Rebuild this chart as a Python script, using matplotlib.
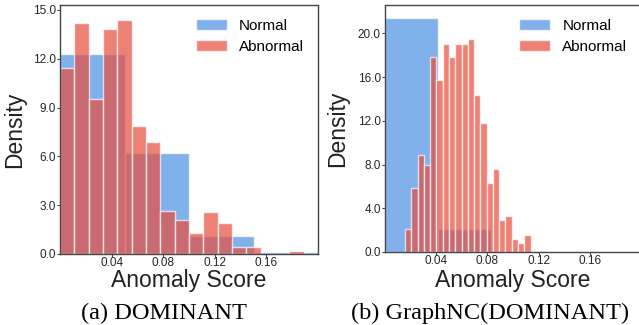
import numpy as np
import matplotlib
matplotlib.use("Agg")
import matplotlib.pyplot as plt

plt.rcParams['font.family'] = ['Liberation Sans', 'DejaVu Sans']

# (a) DOMINANT -- histogram bins and densities
a_normal_edges = [0.0, 0.05, 0.10, 0.15, 0.20]
a_normal_dens = [12.3, 6.2, 1.1, 0.12]
a_abnormal_edges = np.linspace(0.0, 0.2, 19)
a_abnormal_dens = [11.45, 14.2, 9.55, 13.8, 14.4, 7.85, 6.9, 2.65, 2.1,
                   1.3, 2.6, 1.9, 0.4, 0.4, 0.0, 0.0, 0.2, 0.0]

# (b) GraphNC(DOMINANT)
b_normal_edges = [0.0, 0.0415, 0.083, 0.1245]
b_normal_dens = [21.4, 2.13, 0.05]
b_abnormal_edges = np.linspace(0.0157, 0.1137, 21)
b_abnormal_dens = [2.1, 5.9, 8.9, 8.0, 17.8, 15.7, 19.05, 17.8, 19.05, 19.05,
                   19.45, 14.4, 11.8, 6.3, 7.55, 2.9, 3.3, 1.2, 0.8, 1.6]

xticks = [0.04, 0.08, 0.12, 0.16]
a_yticks = [0, 3, 6, 9, 12, 15]
b_yticks = [0, 4, 8, 12, 16, 20]

blue = '#4a90e2'
red = '#e74c3c'
spine_col = '#444444'

fig = plt.figure(figsize=(6.39, 3.25), dpi=100)
ax1 = fig.add_axes([60/639, 71/325, 258/639, 249/325])
ax2 = fig.add_axes([385/639, 73/325, 256/639, 247/325])


def draw(ax, ne, nd, ae, ad, yticks, ytop):
    ne = np.asarray(ne)
    ae = np.asarray(ae)
    ax.bar(ne[:-1], nd, width=np.diff(ne), align='edge', color=blue,
           alpha=0.7, edgecolor='white', linewidth=1, label='Normal')
    ax.bar(ae[:-1], ad, width=np.diff(ae), align='edge', color=red,
           alpha=0.7, edgecolor='white', linewidth=1, label='Abnormal')
    ax.set_xlim(0, 0.2)
    ax.set_ylim(0, ytop)
    ax.set_xticks(xticks)
    ax.set_xticklabels(['%.2f' % t for t in xticks])
    ax.set_yticks(yticks)
    ax.set_yticklabels(['%.1f' % t for t in yticks])
    ax.tick_params(labelsize=8.5, length=2, width=0.8, pad=1,
                   color=spine_col, labelcolor='#262626')
    ax.tick_params(axis='x', pad=0.5)
    for s in ax.spines.values():
        s.set_color(spine_col)
        s.set_linewidth(1.0)
    ax.legend(loc='upper right', frameon=False, fontsize=11,
              handlelength=2.0, handletextpad=0.8, labelspacing=0.45)


draw(ax1, a_normal_edges, a_normal_dens, a_abnormal_edges, a_abnormal_dens,
     a_yticks, 15.3)
draw(ax2, b_normal_edges, b_normal_dens, b_abnormal_edges, b_abnormal_dens,
     b_yticks, 22.6)

for ax, lx, ly in [(ax1, -0.15, -0.132), (ax2, -0.16, -0.140)]:
    ax.set_ylabel('Density', fontsize=16.5, color='#222222', va='baseline')
    ax.yaxis.set_label_coords(lx, 0.5)
    ax.set_xlabel('Anomaly Score', fontsize=16.5, color='#222222',
                  va='baseline')
    ax.xaxis.set_label_coords(0.5, ly)

fig.text(163.7/639, 6/325, '(a) DOMINANT', ha='center', va='baseline',
         fontsize=17.6, family=['Liberation Serif', 'DejaVu Serif'])
fig.text(490/639, 6/325, '(b) GraphNC(DOMINANT)', ha='center', va='baseline',
         fontsize=17.6, family=['Liberation Serif', 'DejaVu Serif'])

fig.savefig('out.png', dpi=100)
